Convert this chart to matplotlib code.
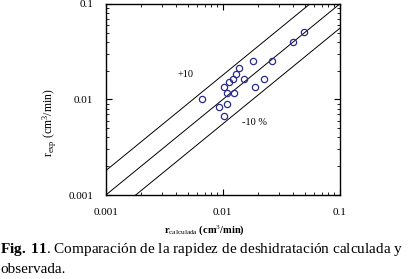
import matplotlib.pyplot as plt
import numpy as np

r_calc = [0.00665, 0.00929, 0.0108, 0.0103, 0.0102, 0.0108, 0.0125, 0.0112, 0.0122,
          0.0130, 0.0138, 0.0153, 0.0182, 0.0190, 0.0223, 0.0261, 0.0402, 0.0491]
r_exp = [0.0100, 0.00828, 0.00887, 0.00664, 0.01337, 0.01161, 0.01161, 0.01507, 0.01652,
         0.01841, 0.02153, 0.01652, 0.0250, 0.01337, 0.0163, 0.0250, 0.0401, 0.0503]
band = 1.8  # the +/- band lines

plt.rcParams['font.family'] = ['Liberation Serif', 'DejaVu Serif']
plt.rcParams['mathtext.fontset'] = 'custom'
plt.rcParams['mathtext.rm'] = 'Liberation Serif'
plt.rcParams['mathtext.it'] = 'Liberation Serif:italic'
plt.rcParams['mathtext.bf'] = 'Liberation Serif:bold'

fig = plt.figure(figsize=(4.2, 2.79), dpi=100)
ax = fig.add_axes([0.252, 0.301, 0.557, 0.685])

xx = np.array([0.001, 0.1])
for f in (band, 1.0, 1.0 / band):
    ax.plot(xx, xx * f, color='black', lw=0.7)

ax.plot(r_calc, r_exp, 'o', mfc='none', mec='#2b2b8c', mew=0.9, ms=4.5)

ax.set_xscale('log')
ax.set_yscale('log')
ax.set_xlim(0.001, 0.1)
ax.set_ylim(0.001, 0.1)
ax.set_xticks([0.001, 0.01, 0.1], ['0.001', '0.01', '0.1'])
ax.set_yticks([0.001, 0.01, 0.1], ['0.001', '0.01', '0.1'])
ax.tick_params(which='both', direction='in', top=True, right=True, labelsize=8)
ax.tick_params(which='major', length=4, width=0.8)
ax.tick_params(which='minor', length=2.5, width=0.6)
ax.tick_params(axis='x', pad=9)
ax.tick_params(axis='y', pad=9)
for s in ax.spines.values():
    s.set_linewidth(1.0)

ax.text(0.00483, 0.0181, '+10', fontsize=7.5, ha='center', va='center')
ax.text(0.0188, 0.00568, '-10 %', fontsize=7.5, ha='center', va='center')

ax.set_xlabel(r'r$_{\rm calculada}$ (cm$^3$/min)', fontsize=7.5, fontweight='bold')
ax.xaxis.set_label_coords(0.42, -0.145)
ax.set_ylabel(r'r$_{\rm exp}$ (cm$^3$/min)', fontsize=8.5)
ax.yaxis.set_label_coords(-0.2, 0.38)

fig.text(0.0, 0.105, r'$\mathbf{Fig.\ 11}$. Comparación de la rapidez de deshidratación calculada y',
         fontsize=11, ha='left', va='center')
fig.text(0.0, 0.035, 'observada.', fontsize=11, ha='left', va='center')

fig.savefig('out.png', dpi=100)
